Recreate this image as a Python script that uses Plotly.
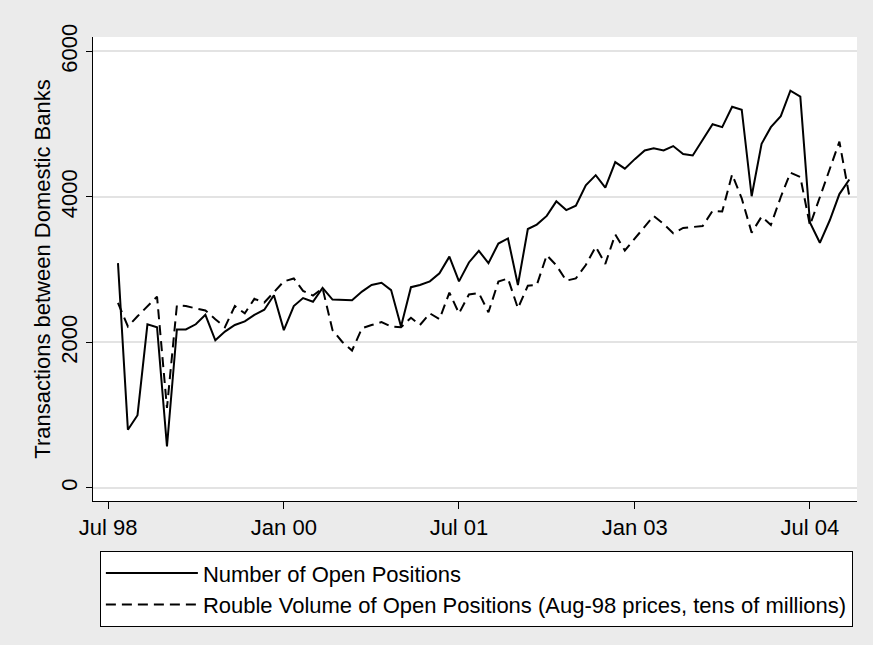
import pandas as pd
import plotly.graph_objects as go

# monthly series, Aug 1998 - Nov 2004
startMonth = '1998-08-01'
openPositions = [3090, 800, 1000, 2250, 2210, 570, 2180, 2180, 2250, 2380,
                 2030, 2150, 2240, 2290, 2380, 2450, 2650, 2170, 2500, 2610,
                 2560, 2750, 2590, 2580, 2580, 2700, 2790, 2820, 2720, 2220,
                 2760, 2790, 2840, 2950, 3180, 2840, 3100, 3260, 3090, 3360,
                 3430, 2790, 3560, 3620, 3740, 3940, 3820, 3880, 4160, 4300,
                 4130, 4480, 4390, 4520, 4640, 4670, 4640, 4700, 4590, 4570,
                 4790, 5000, 4960, 5240, 5200, 4010, 4730, 4960, 5110, 5460,
                 5380, 3650, 3370, 3680, 4040, 4240]
roubleVolume = [2545, 2220, 2360, 2500, 2630, 1100, 2510, 2500, 2470, 2440,
                2320, 2210, 2500, 2400, 2600, 2550, 2690, 2840, 2880, 2710,
                2645, 2745, 2170, 2010, 1890, 2195, 2240, 2280, 2220, 2210,
                2340, 2240, 2400, 2320, 2685, 2400, 2660, 2680, 2415, 2836,
                2880, 2470, 2780, 2790, 3200, 3060, 2850, 2880, 3065, 3317,
                3080, 3485, 3265, 3432, 3590, 3739, 3630, 3501, 3575, 3590,
                3600, 3810, 3800, 4310, 3980, 3510, 3730, 3615, 4000, 4334,
                4275, 3610, 3990, 4380, 4760, 4014]
seriesNames = ['Number of Open Positions',
               'Rouble Volume of Open Positions (Aug-98 prices, tens of millions)']
yTicks = [0, 2000, 4000, 6000]
xTickDates = ['1998-07-01', '2000-01-01', '2001-07-01', '2003-01-01', '2004-07-01']
xTickLabels = ['Jul 98', 'Jan 00', 'Jul 01', 'Jan 03', 'Jul 04']
yTitle = 'Transactions between Domestic Banks'

months = pd.date_range(startMonth, periods=len(openPositions), freq='MS')

fontFamily = 'Arial, Liberation Sans, sans-serif'
fontSize = 22
bgColor = '#ebebeb'
gridColor = '#e3e3e3'

fig = go.Figure()
fig.add_trace(go.Scatter(x=months, y=openPositions, mode='lines', name=seriesNames[0],
                         line=dict(color='black', width=2)))
fig.add_trace(go.Scatter(x=months, y=roubleVolume, mode='lines', name=seriesNames[1],
                         line=dict(color='black', width=2, dash='10px,6px')))

fig.update_layout(width=873, height=645, margin=dict(l=93, r=16, t=37, b=144),
                  paper_bgcolor=bgColor, plot_bgcolor='white',
                  font=dict(family=fontFamily, size=fontSize, color='black'),
                  showlegend=True,
                  legend=dict(x=0.009, y=-0.108, xanchor='left', yanchor='top',
                              bgcolor='white', bordercolor='black', borderwidth=1,
                              itemwidth=92, tracegroupgap=0,
                              font=dict(size=fontSize)))

fig.update_xaxes(range=['1998-05-15', '2004-11-25'], tickvals=xTickDates, ticktext=xTickLabels,
                 showgrid=False, zeroline=False, showline=True, linecolor='black', linewidth=1,
                 ticks='outside', ticklen=7, tickcolor='black')
fig.update_yaxes(range=[-179, 6199], tickvals=yTicks, tickangle=-90,
                 showgrid=True, gridcolor=gridColor, gridwidth=2, zeroline=False,
                 showline=True, linecolor='black', linewidth=1,
                 ticks='outside', ticklen=6, tickcolor='black',
                 title=dict(text=yTitle, standoff=0, font=dict(size=fontSize)))

fig.write_html('out.html', config={'displayModeBar': False},
               post_script="document.body.style.margin='0';")
